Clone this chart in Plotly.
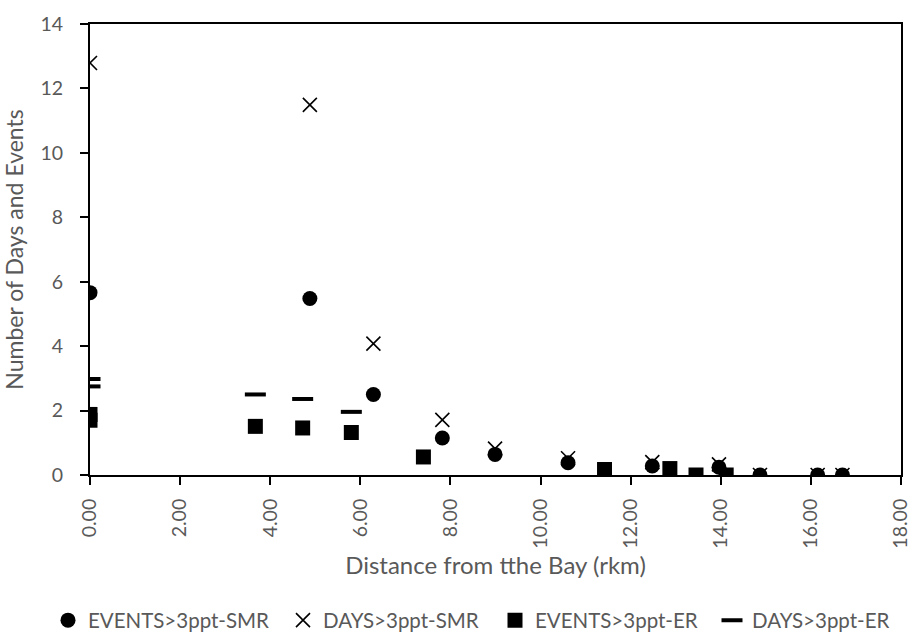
import plotly.graph_objects as go

# Distance from the bay (rkm) and counts for each station
smr_dist = [0.0, 4.88, 6.29, 7.82, 8.99, 10.61, 12.48, 13.96, 14.87, 16.15, 16.70]
smr_events = [5.66, 5.48, 2.50, 1.15, 0.64, 0.38, 0.28, 0.24, 0.0, 0.0, 0.0]
smr_days = [12.79, 11.49, 4.08, 1.71, 0.82, 0.52, 0.40, 0.33, 0.0, 0.0, 0.0]

er_dist = [0.0, 0.0, 3.67, 4.72, 5.80, 7.40, 11.42, 12.87, 13.45, 14.12]
er_events = [1.88, 1.70, 1.51, 1.46, 1.32, 0.56, 0.17, 0.20, 0.0, 0.0]

er_days_dist = [0.0, 0.0, 3.67, 4.72, 5.80]
er_days = [2.98, 2.75, 2.50, 2.36, 1.96]

x_ticks = [0, 2, 4, 6, 8, 10, 12, 14, 16, 18]
y_ticks = [0, 2, 4, 6, 8, 10, 12, 14]

FONT = "Lato"
GREY = "#595959"

fig = go.Figure()

fig.add_trace(go.Scatter(
    x=smr_dist, y=smr_days, mode="markers", name="DAYS>3ppt-SMR", legend="legend2",
    marker=dict(symbol="x-thin-open", size=14, color="black",
                line=dict(width=1.6, color="black")),
))
fig.add_trace(go.Scatter(
    x=smr_dist, y=smr_events, mode="markers", name="EVENTS>3ppt-SMR", legend="legend",
    marker=dict(symbol="circle", size=15, color="black", line=dict(width=0)),
))
fig.add_trace(go.Scatter(
    x=er_days_dist, y=er_days, mode="markers", name="DAYS>3ppt-ER", legend="legend4",
    marker=dict(symbol="line-ew-open", size=15, color="black",
                line=dict(width=4, color="black")),
))
fig.add_trace(go.Scatter(
    x=er_dist, y=er_events, mode="markers", name="EVENTS>3ppt-ER", legend="legend3",
    marker=dict(symbol="square", size=15, color="black", line=dict(width=0)),
))


def legend_box(left_px):
    # one single-entry legend per series, laid out in a row under the x title
    return dict(
        orientation="h", xref="container", yref="container",
        x=left_px / 923, xanchor="left", y=0.02, yanchor="middle",
        font=dict(family=FONT, size=20.5, color=GREY),
        itemwidth=30, bgcolor="rgba(0,0,0,0)",
    )


fig.update_layout(
    width=923, height=633,
    margin=dict(l=90, r=16, t=17, b=158),
    paper_bgcolor="white", plot_bgcolor="white",
    font=dict(family=FONT, size=19, color=GREY),
    showlegend=True,
    legend=legend_box(48),
    legend2=legend_box(283),
    legend3=legend_box(495),
    legend4=legend_box(712),
)

fig.update_xaxes(
    range=[0, 18], tickvals=x_ticks, tickformat=".2f", tickangle=-90,
    showgrid=False, zeroline=False,
    showline=True, linecolor="black", linewidth=2, mirror=True,
    ticks="outside", ticklen=8, tickcolor="black", tickwidth=2,
    ticklabelstandoff=6,
    tickfont=dict(family=FONT, size=19.5, color=GREY),
    title=dict(text="Distance from tthe Bay (rkm)", standoff=10,
               font=dict(family=FONT, size=24, color=GREY)),
)
fig.update_yaxes(
    range=[0, 14], tickvals=y_ticks,
    showgrid=False, zeroline=False,
    showline=True, linecolor="black", linewidth=2, mirror=True,
    ticks="outside", ticklen=8, tickcolor="black", tickwidth=2,
    ticklabelstandoff=13,
    tickfont=dict(family=FONT, size=19.5, color=GREY),
    title=dict(text="Number of Days and Events", standoff=10,
               font=dict(family=FONT, size=23, color=GREY)),
)

fig.write_html("out.html")
